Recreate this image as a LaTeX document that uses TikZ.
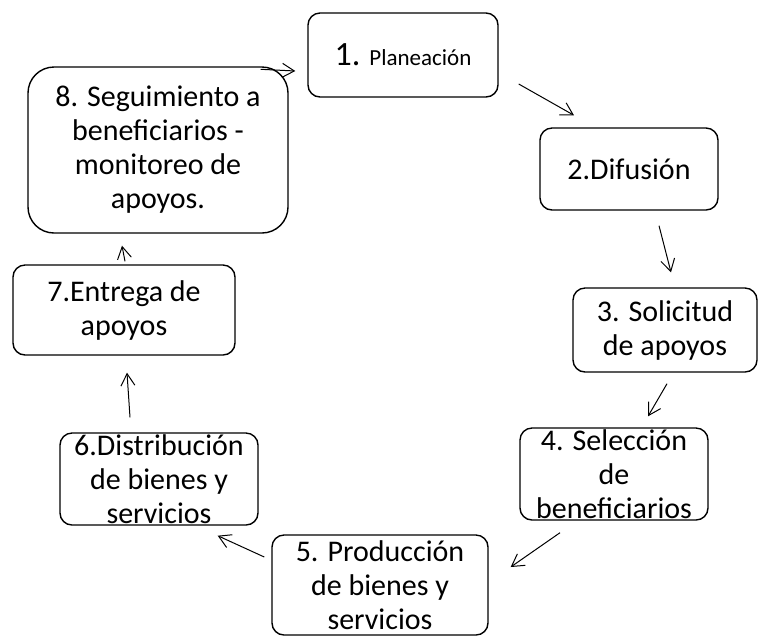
\documentclass[tikz,border=0pt]{standalone}
\usepackage{fontspec}
\setmainfont{Carlito}
\usepackage{tikz}
\usetikzlibrary{arrows.meta,calc}
\tikzstyle{paso} = [draw=black, line width=0.7pt, rounded corners=6pt, align=center, inner sep=0pt, font=\fontsize{15}{17}\selectfont]
\tikzstyle{paso_g} = [paso, rounded corners=13pt]

\begin{document}
\begin{tikzpicture}[->,>={Straight Barb[length=6pt,width=7pt]},x=0.5pt,y=-0.5pt,line width=0.5pt]
\useasboundingbox (0,0) rectangle (759,639);
\node [paso, minimum width=95pt, minimum height=42pt] (n1) at (403,55) {{\fontsize{17}{17}\selectfont 1.} {\fontsize{11.5}{14}\selectfont Planeación}};
\node [paso, minimum width=89pt, minimum height=41pt] (n2) at (629,169) {2.Difusión};
\node [paso, minimum width=92pt, minimum height=42pt] (n3) at (665,330) {3. Solicitud\\de apoyos};
\node [paso, minimum width=94pt, minimum height=46pt] (n4) at (614,474) {4. Selección\\de\\beneficiarios};
\node [paso, minimum width=108pt, minimum height=50pt] (n5) at (380,585) {5. Producción\\de bienes y\\servicios};
\node [paso, minimum width=99pt, minimum height=46pt] (n6) at (159,479) {6.Distribución\\de bienes y\\servicios};
\node [paso, minimum width=111pt, minimum height=45pt] (n7) at (124,310) {7.Entrega de\\apoyos};
\node [paso_g, minimum width=130pt, minimum height=83pt] (n8) at (158,150) {8. Seguimiento a\\beneficiarios -\\monitoreo de\\apoyos.};
% ciclo
\draw ($(n8.north east)+(-28,3)$) -- ($(n1.west)+(-12,16)$);
\draw ($(n1.east)+(20,29)$) -- ($(n2.north)+(-55,-12)$);
\draw ($(n2.south)+(30,15)$) -- ($(n3.north)+(6,-15)$);
\draw ($(n3.south)+(2,11)$) -- ($(n4.north)+(34,-11)$);
\draw ($(n4.south)+(-54,12)$) -- ($(n5.east)+(22,-18)$);
\draw ($(n5.west)+(-7,-28)$) -- ($(n6.south east)+(-41,10)$);
\draw ($(n6.north)+(-29,-15)$) -- ($(n7.south)+(3,17)$);
\draw ($(n7.north)+(1,-3)$) -- ($(n8.south)+(-36,12)$);
\end{tikzpicture}
\end{document}
